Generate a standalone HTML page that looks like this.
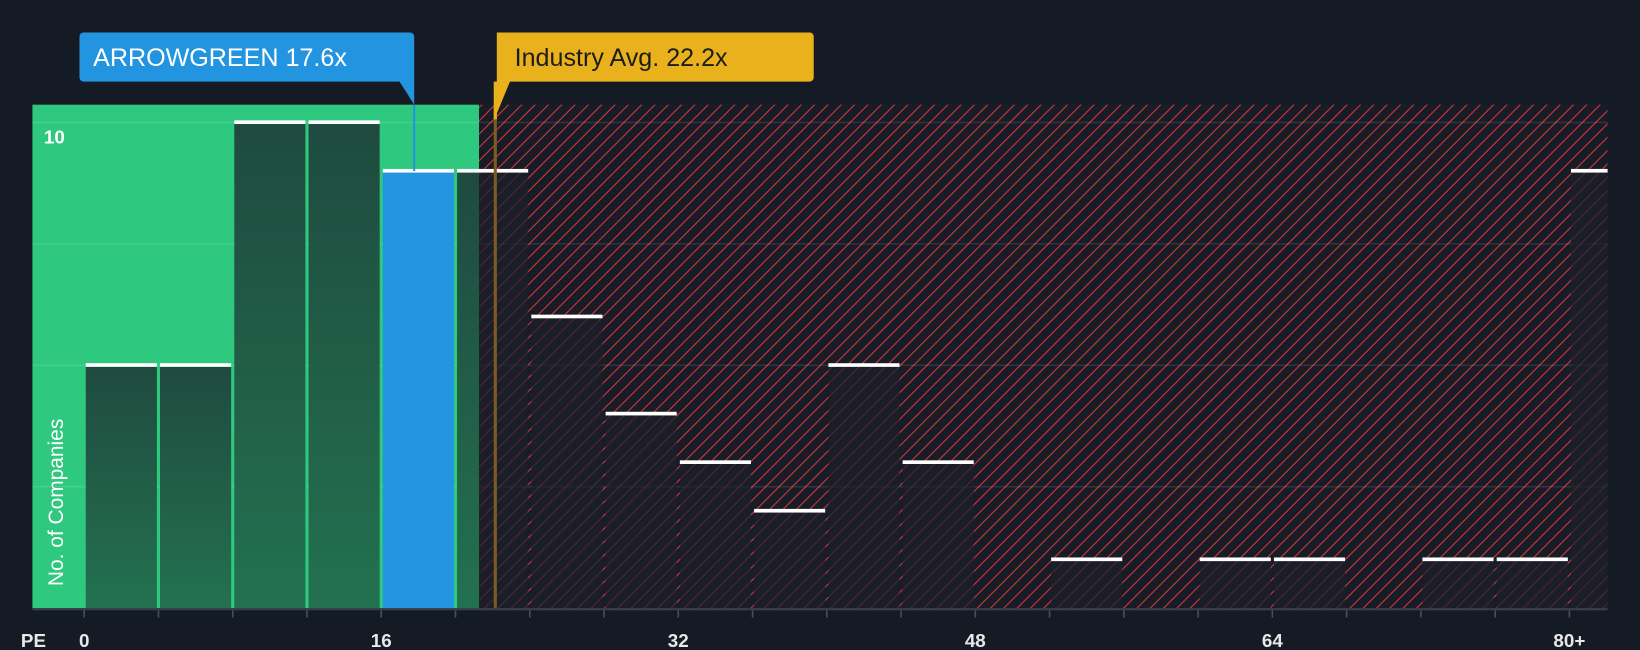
<!DOCTYPE html>
<html><head><meta charset="utf-8"><style>
html,body{margin:0;padding:0;background:#151b24;}
svg{display:block;font-family:"Liberation Sans",sans-serif;}
</style></head><body>
<svg id="chart" width="1640" height="650" viewBox="0 0 1568 621" preserveAspectRatio="none" xmlns="http://www.w3.org/2000/svg">
<defs>
<pattern id="hatch" patternUnits="userSpaceOnUse" width="9" height="9" patternTransform="rotate(45)">
<rect width="9" height="9" fill="#181c26"/>
<line x1="0" y1="0" x2="0" y2="9" stroke="#d9383c" stroke-width="2"/>
</pattern>
<linearGradient id="gbar" x1="0" y1="0" x2="0" y2="1">
<stop offset="0" stop-color="#1f4a3f"/><stop offset="1" stop-color="#237150"/>
</linearGradient>
</defs>
<rect x="0" y="0" width="1568" height="621" fill="#151b24"/>
<g id="bg"></g>
<g id="grid"></g>
<g id="bars"></g>
<g id="axis"></g>
<g id="callouts"></g>
</svg>
<script>
const binStarts = [0,4,8,12,16,20,24,28,32,36,40,44,48,52,56,60,64,68,72,76,80];
const counts = [5,5,10,10,9,9,6,4,3,2,5,3,0,1,0,1,1,0,1,1,9];
const tickValues = [0,16,32,48,64,80];
const tickLabels = ["0","16","32","48","64","80+"];
const companyPE = 17.6;
const industryPE = 22.2;
const highlightBin = 4;
const yMaxLabel = 10;

const NS="http://www.w3.org/2000/svg";
const x0=80.5, pxPerUnit=71/4, yBase=581, pxPerCount=46.4, plotTop=100, plotLeft=31, plotRight=1537;
const xs=v=>x0+v*pxPerUnit;
const ys=c=>yBase-c*pxPerCount;
function mk(t,a,p){const e=document.createElementNS(NS,t);for(const k in a)e.setAttribute(k,a[k]);p.appendChild(e);return e;}
const bg=document.getElementById('bg'),grid=document.getElementById('grid'),bars=document.getElementById('bars'),axis=document.getElementById('axis'),co=document.getElementById('callouts');
const greenEnd=458;
const darkFill='rgba(28,32,42,0.72)';
let e=mk('rect',{x:plotLeft,y:plotTop,width:greenEnd-plotLeft,height:yBase-plotTop,fill:'#2ec97e'},bg);


e=mk('rect',{x:greenEnd,y:plotTop,width:plotRight-greenEnd,height:yBase-plotTop,fill:'url(#hatch)'},bg);


for(let c=2.5;c<=10;c+=2.5){
 e=mk('line',{x1:plotLeft,x2:plotRight,y1:ys(c),y2:ys(c),stroke:'rgba(255,255,255,0.1)','stroke-width':1.5},grid);
 
 
}
binStarts.forEach((b,i)=>{
 const c=counts[i]; if(!c) { return; }
 const xl=xs(b)+1.5;
 const w=Math.min(pxPerUnit*4-3, plotRight-xl);
 const yt=ys(c);
 let fill;
 if(i===highlightBin) fill='#2394e0';
 else if(xl+w<=greenEnd) fill='url(#gbar)';
 else fill=darkFill;
 if(i!==highlightBin && xl<greenEnd && xl+w>greenEnd){
  const r1=mk('rect',{x:xl,y:yt,width:greenEnd-xl,height:yBase-yt,fill:'url(#gbar)'},bars);
  
  
  const r2=mk('rect',{x:greenEnd,y:yt,width:xl+w-greenEnd,height:yBase-yt,fill:darkFill},bars);
  
  
 } else {
  const r=mk('rect',{x:xl,y:yt,width:w,height:yBase-yt,fill:fill},bars);
  
  
 }
 const cap=mk('rect',{x:xl,y:yt-2,width:w,height:3.5,fill:'#ffffff'},bars);
 
 
});
e=mk('line',{x1:plotLeft,x2:plotRight,y1:yBase+1,y2:yBase+1,stroke:'#3a404a','stroke-width':2},axis);


binStarts.forEach(b=>{
 const t=mk('line',{x1:xs(b),x2:xs(b),y1:yBase+2,y2:yBase+9,stroke:'#4a505a','stroke-width':1.5},axis);
 
 
});
tickValues.forEach((v,i)=>{
 const t=mk('text',{x:xs(v),y:618,fill:'#e8e8e8','font-size':18,'font-weight':'bold','text-anchor':'middle'},axis);
 t.textContent=tickLabels[i];
 
 
});
e=mk('text',{x:20,y:618,fill:'#e8e8e8','font-size':18,'font-weight':'bold'},axis);e.textContent='PE';


e=mk('text',{x:42,y:137,fill:'#ffffff','font-size':18,'font-weight':'bold'},axis);e.textContent=String(yMaxLabel);


e=mk('text',{x:0,y:0,fill:'#ffffff','font-size':20,'text-anchor':'middle',transform:'translate(60,480) rotate(-90)'},axis);e.textContent='No. of Companies';


// industry line
const ix=xs(industryPE)-1;
e=mk('line',{x1:ix,x2:ix,y1:plotTop,y2:yBase,stroke:'#7a5c22','stroke-width':3},co);


e=mk('path',{d:`M475 31 H774 a4 4 0 0 1 4 4 V74 a4 4 0 0 1 -4 4 H${ix+14} L${ix} ${plotTop+12} V78 H475 Z`,fill:'#e9b11c'},co);


e=mk('line',{x1:ix,x2:ix,y1:78,y2:plotTop+14,stroke:'#e9b11c','stroke-width':3},co);
e=mk('text',{x:492,y:63,fill:'#1c1c1c','font-size':24},co);e.textContent='Industry Avg. '+industryPE.toFixed(1)+'x';


// company line
const cxx=396;
e=mk('line',{x1:cxx,x2:cxx,y1:plotTop,y2:ys(counts[highlightBin]),stroke:'#2394e0','stroke-width':2},co);


e=mk('path',{d:`M80 31 H392 a4 4 0 0 1 4 4 V${plotTop} L382 78 H80 a4 4 0 0 1 -4 -4 V35 a4 4 0 0 1 4 -4 Z`,fill:'#2394e0'},co);


e=mk('text',{x:89,y:63,fill:'#ffffff','font-size':24},co);e.textContent='ARROWGREEN '+companyPE.toFixed(1)+'x';


</script>
</body></html>
